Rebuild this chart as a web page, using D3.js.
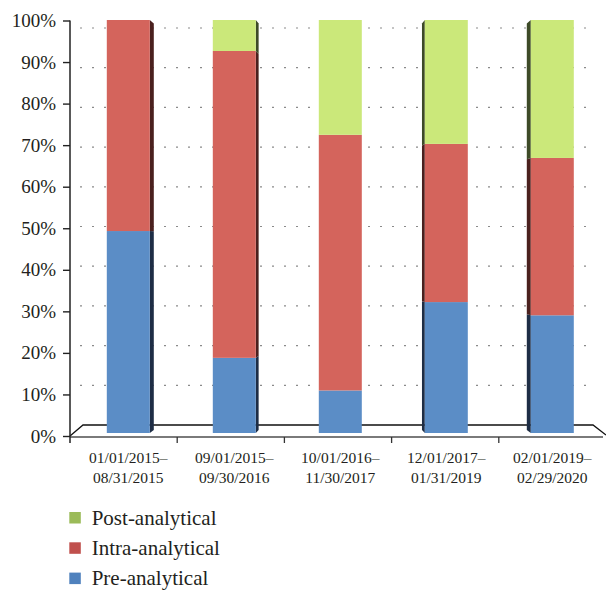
<!DOCTYPE html>
<html>
<head>
<meta charset="utf-8">
<script src="https://cdn.jsdelivr.net/npm/d3@7"></script>
<style>
  html, body { margin: 0; padding: 0; background: #fff; }
  svg { display: block; }
  text { font-family: "Liberation Serif", "Times New Roman", serif; fill: #231f20; }
</style>
</head>
<body>
<div id="chart"></div>
<script>
// ---- data ----
const categories = ["01/01/2015–08/31/2015", "09/01/2015–09/30/2016", "10/01/2016–11/30/2017", "12/01/2017–01/31/2019", "02/01/2019–02/29/2020"];
const seriesNames = ["Pre-analytical", "Intra-analytical", "Post-analytical"];
const preAnalytical   = [48.9, 18.2, 10.3, 31.7, 28.5];
const intraAnalytical = [51.1, 74.3, 61.9, 38.3, 38.1];
const postAnalytical  = [0.0, 7.5, 27.8, 30.0, 33.4];
const yTicks = [0, 10, 20, 30, 40, 50, 60, 70, 80, 90, 100];
const yTickLabels = ["0%", "10%", "20%", "30%", "40%", "50%", "60%", "70%", "80%", "90%", "100%"];

// ---- styles ----
const frontColors = {"Pre-analytical": "#5b8dc6", "Intra-analytical": "#d4645c", "Post-analytical": "#cbe87a"};
const sideColors  = {"Pre-analytical": "#1e2d45", "Intra-analytical": "#4a201e", "Post-analytical": "#3d4a27"};
const legendColors = {"Pre-analytical": "#4f81bd", "Intra-analytical": "#c0504d", "Post-analytical": "#9bbb59"};

const W = 606, H = 591;
const svg = d3.select("#chart").append("svg").attr("width", W).attr("height", H);

const rows = categories.map((c, i) => ({
  cat: c,
  "Pre-analytical": preAnalytical[i],
  "Intra-analytical": intraAnalytical[i],
  "Post-analytical": postAnalytical[i]
}));
const stacked = d3.stack().keys(seriesNames)(rows);

// scales
const xAxisScale = d3.scaleBand().domain(categories).range([70, 606]).padding(0);
const xBarScale = d3.scaleBand().domain(categories).range([75.3, 605.3]).padding(0);
const barW = 43;
const yAxisScale = d3.scaleLinear().domain([0, 100]).range([436, 20.5]);
const yBar = d3.scaleLinear().domain([0, 100]).range([433, 20]);
const yBarBack = d3.scaleLinear().domain([0, 100]).range([430, 23.5]);
const yWall = d3.scaleLinear().domain([0, 100]).range([425, 28]);
const chartCenter = 340.5;

// back-wall dotted grid
svg.append("g").selectAll("line").data(yTicks.filter(t => t > 0)).join("line")
  .attr("x1", 80).attr("x2", 592)
  .attr("y1", d => yWall(d)).attr("y2", d => yWall(d))
  .attr("stroke", "#8a8a8a").attr("stroke-width", 1.2)
  .attr("stroke-dasharray", "2,10");

// floor
const floor = svg.append("g");
floor.append("path")
  .attr("d", `M${xAxisScale.range()[0]},436 L83,${yWall(0)} L593,${yWall(0)} L${xAxisScale.range()[1]},435`)
  .attr("fill", "none").attr("stroke", "#111").attr("stroke-width", 1.3);

// bars
const barsG = svg.append("g");
stacked.forEach(layer => {
  const key = layer.key;
  layer.forEach((seg, i) => {
    const [v0, v1] = seg;
    if (v1 - v0 <= 0) return;
    const cat = categories[i];
    const cx = xBarScale(cat) + xBarScale.bandwidth() / 2;
    const x0 = cx - barW / 2, x1 = cx + barW / 2;
    const off = cx - chartCenter;
    const depth = Math.abs(off) < 5 ? 0 : 4 * Math.sqrt(Math.abs(off) / 212);
    if (depth > 0) {
      const xe = off < 0 ? x1 : x0;
      const xb = off < 0 ? x1 + depth : x0 - depth;
      barsG.append("path")
        .attr("d", `M${xe},${yBar(v1)} L${xb},${yBarBack(v1)} L${xb},${yBarBack(v0)} L${xe},${yBar(v0)} Z`)
        .attr("fill", sideColors[key]);
    }
    barsG.append("rect")
      .attr("x", x0).attr("width", barW)
      .attr("y", yBar(v1)).attr("height", yBar(v0) - yBar(v1))
      .attr("fill", frontColors[key]);
  });
});

// x axis
svg.append("line")
  .attr("x1", xAxisScale.range()[0]).attr("x2", xAxisScale.range()[1] - 3)
  .attr("y1", 437).attr("y2", 437)
  .attr("stroke", "#7a7a7a").attr("stroke-width", 2);
svg.append("g").selectAll("line").data(categories.slice(1)).join("line")
  .attr("x1", d => xAxisScale(d)).attr("x2", d => xAxisScale(d))
  .attr("y1", 437).attr("y2", 443)
  .attr("stroke", "#333").attr("stroke-width", 1.3);

// x labels
const xl = svg.append("g").selectAll("text").data(categories).join("text")
  .attr("text-anchor", "middle")
  .attr("font-size", 15.5)
  .attr("transform", d => `translate(${xBarScale(d) + xBarScale.bandwidth() / 2},0)`);
xl.append("tspan").attr("x", 0).attr("y", 462.5).text(d => d.split("–")[0] + "–");
xl.append("tspan").attr("x", 0).attr("y", 482.5).text(d => d.split("–")[1]);

// y axis
const yAxis = d3.axisLeft(yAxisScale).tickValues(yTicks)
  .tickFormat((d, i) => yTickLabels[i]).tickSize(7).tickPadding(7);
const yg = svg.append("g").attr("transform", "translate(70,0)").call(yAxis);
yg.attr("font-family", null);
yg.select(".domain").remove();
yg.selectAll(".tick line").attr("stroke", "#222").attr("stroke-width", 1.4);
yg.selectAll(".tick text")
  .attr("font-size", 19).attr("fill", "#231f20");
svg.append("line")
  .attr("x1", 70).attr("x2", 70).attr("y1", yAxisScale(100)).attr("y2", 443)
  .attr("stroke", "#222").attr("stroke-width", 1.5);

// legend
const legendOrder = ["Post-analytical", "Intra-analytical", "Pre-analytical"];
const lg = svg.append("g").selectAll("g").data(legendOrder).join("g")
  .attr("transform", (d, i) => `translate(69.3,${524.5 + i * 30.3})`);
lg.append("rect").attr("x", 0).attr("y", -12.5).attr("width", 11.5).attr("height", 11.5)
  .attr("fill", d => legendColors[d]);
lg.append("text").attr("x", 22.4).attr("y", 0).attr("font-size", 21).text(d => d);
</script>
</body>
</html>
